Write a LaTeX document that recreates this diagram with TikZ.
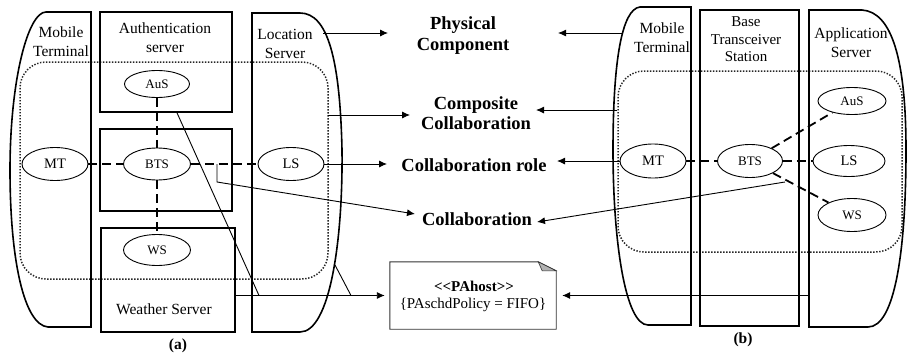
\documentclass[tikz,border=0pt]{standalone}
\usepackage{fontspec}
\setmainfont{Liberation Serif}
\usetikzlibrary{shapes.geometric,arrows.meta,calc}
\begin{document}
\begin{tikzpicture}[x=1pt,y=-1pt,
  shp/.style={line width=1.6pt},
  boxnode/.style={draw,line width=1.6pt,inner sep=0pt},
  dotbox/.style={line width=1.5pt,black!85,dash pattern=on 1.4pt off 1.6pt,rounded corners=26pt},
  dashlink/.style={line width=1.8pt,dash pattern=on 9pt off 5pt},
  conn/.style={line width=0.9pt},
  arr/.style={conn,-{Latex[length=8pt,width=7pt]}},
  el/.style={ellipse,draw,line width=0.9pt,inner sep=0pt,fill=white,font=\fontsize{13}{15}\selectfont},
  elbig/.style={el,font=\fontsize{14.5}{16}\selectfont},
  lbl/.style={font=\fontsize{15.5}{19}\selectfont,align=center,inner sep=0pt},
  bigl/.style={font=\bfseries\fontsize{18.5}{20.5}\selectfont,align=center,inner sep=0pt},
]
\useasboundingbox (0,0) rectangle (907,359);

% ---------------- (a) ----------------
\draw[dotbox] (20,62) rectangle (328,279);
\draw[shp] (91,12) -- (46,12) .. controls (28,12) and (10,80) .. (10,170)
  .. controls (10,260) and (24,325) .. (48,327) -- (91,327) -- cycle;
\draw[shp] (252,13) -- (300,13) .. controls (328,13) and (340,60) .. (342,150)
  .. controls (343,240) and (330,332) .. (300,332) -- (252,332) -- cycle;
\node[boxnode,minimum width=132pt,minimum height=100pt] (authbox) at (166,62) {};
\node[boxnode,minimum width=132pt,minimum height=82pt] (btsbox) at (166,170) {};
\node[boxnode,minimum width=134pt,minimum height=104pt] (wsbox) at (168,280) {};

\node[lbl] (mtlabA) at (61,42) {Mobile\\Terminal};
\node[lbl] (authlab) at (165,38) {Authentication\\server};
\node[lbl] (lslab) at (285,44) {Location\\Server};
\node[lbl] (wslab) at (164,309) {Weather Server};
\node[lbl,font=\bfseries\fontsize{15.5}{18}\selectfont] (capa) at (178,346) {(a)};

\node[el,minimum width=65pt,minimum height=27pt] (ausA) at (157,84) {AuS};
\node[el,minimum width=67pt,minimum height=32pt] (btsA) at (157,164) {BTS};
\node[el,minimum width=67pt,minimum height=31pt] (wsA) at (157,250) {WS};
\node[elbig,minimum width=66pt,minimum height=33pt] (mtA) at (55,164) {MT};
\node[elbig,minimum width=66pt,minimum height=33pt] (lsA) at (291,164) {LS};

\draw[dashlink] (mtA) -- (btsA);
\draw[dashlink] (btsA) -- (lsA);
\draw[dashlink] (ausA) -- (btsA);
\draw[dashlink] (btsA) -- (wsA);

% ---------------- (b) ----------------
\draw[dotbox] (618,71) rectangle (902,252);
\draw[shp] (691,7) -- (640,7) .. controls (622,9) and (613,60) .. (613,150)
  .. controls (613,240) and (625,325) .. (648,325) -- (691,325) -- cycle;
\node[boxnode,minimum width=99pt,minimum height=316pt] (btsboxB) at (749.5,168) {};
\draw[shp] (809,10) -- (862,10) .. controls (892,12) and (906,60) .. (906,150)
  .. controls (906,250) and (895,327) .. (868,327) -- (809,327) -- cycle;

\node[lbl] (mtlabB) at (662,38) {Mobile\\Terminal};
\node[lbl,font=\fontsize{15}{17.5}\selectfont] (btslabB) at (746,39.5) {Base\\Transceiver\\Station};
\node[lbl] (applab) at (851,43) {Application\\Server};
\node[lbl,font=\bfseries\fontsize{15.5}{18}\selectfont] (capb) at (743,340) {(b)};

\node[elbig,minimum width=66pt,minimum height=34pt] (mtB) at (653,161) {MT};
\node[el,minimum width=65pt,minimum height=33pt] (btsB) at (750,161) {BTS};
\node[el,minimum width=68pt,minimum height=27pt] (ausB) at (852,101) {AuS};
\node[elbig,minimum width=72pt,minimum height=31pt] (lsB) at (849,161) {LS};
\node[el,minimum width=68pt,minimum height=33pt] (wsB) at (852,215) {WS};

\draw[dashlink] (mtB) -- (btsB);
\draw[dashlink] (btsB) -- (lsB);
\draw[dashlink] (btsB) -- (ausB);
\draw[dashlink] (btsB) -- (wsB);

% ---------------- middle labels ----------------
\node[bigl] (phys) at (463,35.5) {Physical\\Component};
\node[bigl] (comp) at (476,113) {Composite\\Collaboration};
\node[bigl] (crole) at (474,165) {Collaboration role};
\node[bigl] (coll) at (477,219) {Collaboration};

\node[inner sep=0pt,minimum width=166pt,minimum height=67pt] (note) at (473,295.5) {};
\node[inner sep=0pt,font=\bfseries\fontsize{15}{18}\selectfont] (pahost) at (474,286)
  {<\kern0pt<PAhost>\kern0pt>};
\node[inner sep=0pt,font=\fontsize{15}{18}\selectfont] (policy) at (473,305)
  {\{PAschdPolicy = FIFO\}};
\draw[line width=0.9pt,black!80] (note.north west) -- ([xshift=-18pt]note.north east)
  -- ([yshift=-9pt]note.north east) -- (note.south east) -- (note.south west) -- cycle;
\filldraw[line width=0.6pt,black!80,fill=black!30] ([xshift=-18pt]note.north east)
  -- ([yshift=-9pt]note.north east) -- ([xshift=-14pt,yshift=-9pt]note.north east) -- cycle;

% ---------------- connectors ----------------
\coordinate (lsTop) at (323,33);
\coordinate (physTipL) at (388,33);
\coordinate (mtbTop) at (623,33);
\coordinate (physTipR) at (558,33);
\draw[arr] (lsTop) -- (physTipL);
\draw[arr] (mtbTop) -- (physTipR);

\coordinate (dotA) at (328,115);
\coordinate (compTipL) at (410,115);
\coordinate (dotB) at (617,110);
\coordinate (compTipR) at (536,110);
\draw[arr] (dotA) -- (compTipL);
\draw[arr] (dotB) -- (compTipR);

\coordinate (croleTipL) at (387,164);
\coordinate (croleTipR) at (557,161);
\draw[arr] (lsA.east) -- (croleTipL);
\draw[arr] (mtB.west) -- (croleTipR);

\coordinate (btsTap) at (217,164);
\coordinate (collTipL) at (415,214);
\coordinate (wsTapB) at (785,182);
\coordinate (collTipR) at (537,222);
\draw[arr] (btsTap) -- (217,182) -- (collTipL);
\draw[arr] (wsTapB) -- (collTipR);

\coordinate (pj1) at (259,295.5);
\coordinate (pj2) at (351,295.5);
\coordinate (lsEdge) at (335,265);
\coordinate (appEdge) at (808,0);
\draw[conn] ($(authbox.south)+(11,0)$) -- (pj1);
\draw[conn] (lsEdge) -- (pj2);
\draw[arr] (wsbox.east |- note.west) -- ([xshift=-5pt]note.west);
\draw[arr] (note.east -| appEdge) -- ([xshift=6pt]note.east);
\end{tikzpicture}
\end{document}
